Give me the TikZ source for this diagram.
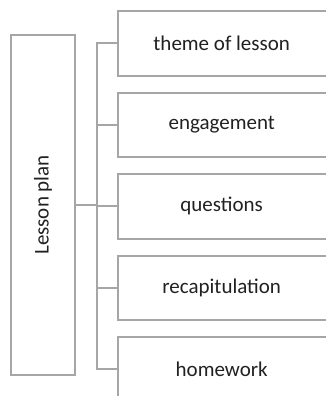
\documentclass[tikz,border=0pt]{standalone}
\usepackage{fontspec}
\setmainfont{Carlito}
\usetikzlibrary{positioning}
\definecolor{framegray}{RGB}{166,166,166}
\definecolor{textgray}{RGB}{33,33,33}
\tikzset{
  side/.style={draw=framegray, line width=2pt},
  item/.style={minimum width=207pt, minimum height=64pt, inner sep=0pt,
    text=textgray, font=\fontsize{21}{25}\selectfont},
}

\begin{document}
\begin{tikzpicture}[x=1pt,y=1pt]
  \useasboundingbox (0,0) rectangle (326,-396);
  % left box, text turned upwards
  \node[side, rotate=90, minimum width=340pt, minimum height=64pt, inner sep=0pt,
    text=textgray, font=\fontsize{21}{25}\selectfont] (plan) at (43,-205) {Lesson plan};
  % right boxes, open on the right
  \node[item, anchor=west] (theme) at (118,-43.5) {theme of lesson};
  \node[item, below=17pt of theme] (engage) {engagement};
  \node[item, below=17pt of engage] (quest) {questions};
  \node[item, below=17pt of quest] (recap) {recapitulation};
  \node[item, below=17pt of recap] (home) {homework};
  \draw[side] ([xshift=4pt]theme.north east) -- (theme.north west) -- (theme.south west) -- ([xshift=4pt]theme.south east);
  \draw[side] ([xshift=4pt]engage.north east) -- (engage.north west) -- (engage.south west) -- ([xshift=4pt]engage.south east);
  \draw[side] ([xshift=4pt]quest.north east) -- (quest.north west) -- (quest.south west) -- ([xshift=4pt]quest.south east);
  \draw[side] ([xshift=4pt]recap.north east) -- (recap.north west) -- (recap.south west) -- ([xshift=4pt]recap.south east);
  \draw[side] ([xshift=4pt]home.north east) -- (home.north west) -- (home.south west) -- ([xshift=4pt]home.south east);
  % bracket
  \coordinate (fork) at (97,-205);
  \draw[side] (plan.south) -- (fork); % south is the right side after rotation
  \draw[side] (theme.west) -- (theme.west -| fork) -- (home.west -| fork) -- (home.west);
  \draw[side] (engage.west -| fork) -- (engage.west);
  \draw[side] (quest.west -| fork) -- (quest.west);
  \draw[side] (recap.west -| fork) -- (recap.west);
\end{tikzpicture}
\end{document}
